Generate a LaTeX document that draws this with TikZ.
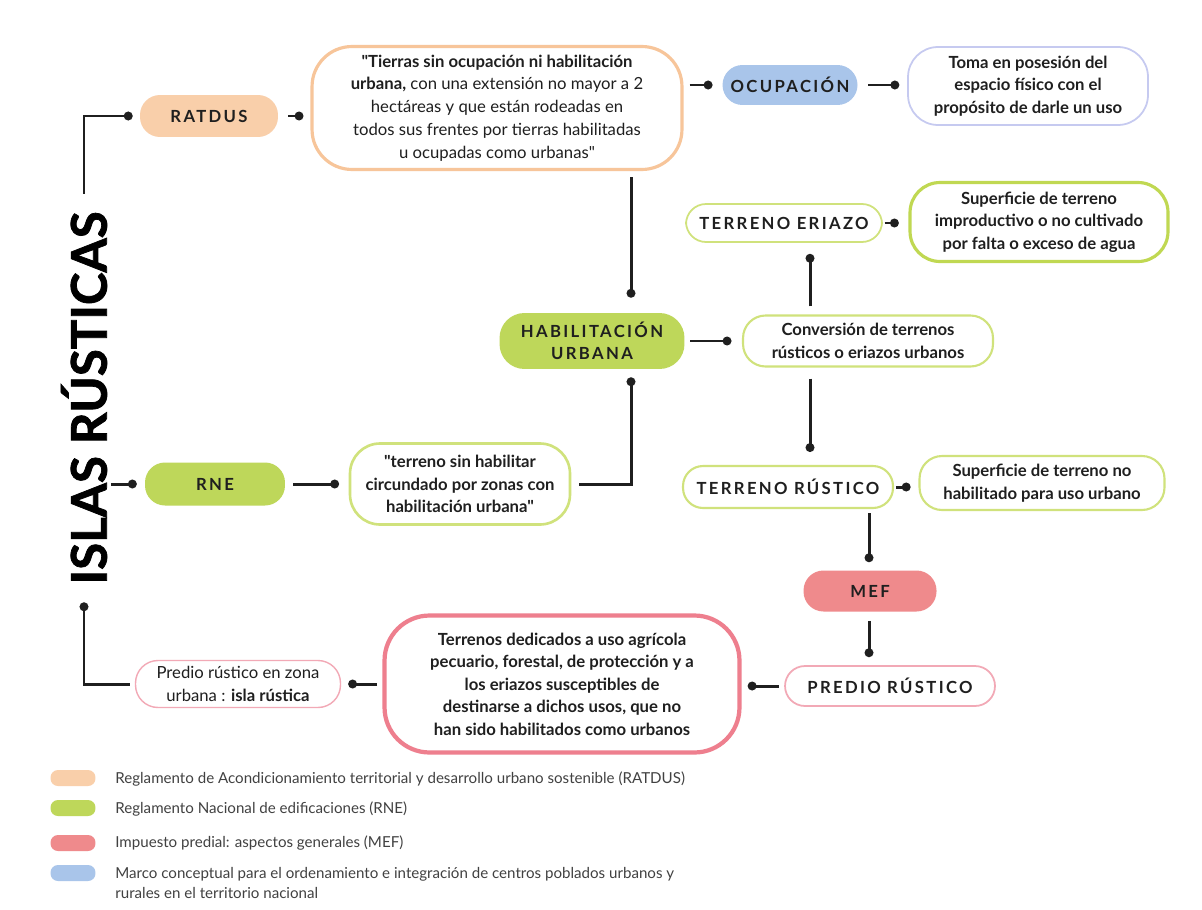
\documentclass[tikz,border=0pt]{standalone}
\usepackage{fontspec}
\setmainfont{Lato}[Ligatures=TeXOff]
\usetikzlibrary{arrows.meta,calc}
\definecolor{ink}{HTML}{1F1F1F}
\definecolor{ratdusfill}{HTML}{F9CFAA}
\definecolor{ratdusline}{HTML}{F7C59A}
\definecolor{ocupfill}{HTML}{A9C5EA}
\definecolor{ocupline}{HTML}{C6CAF0}
\definecolor{rnefill}{HTML}{BED75A}
\definecolor{rneline}{HTML}{D0E27C}
\definecolor{rnedark}{HTML}{C0D852}
\definecolor{meffill}{HTML}{EF8A8C}
\definecolor{mefline}{HTML}{EE7F8E}
\definecolor{mefpale}{HTML}{F2A9B6}
\begin{document}
\begin{tikzpicture}[x=0.02cm, y=-0.02cm,
				link/.style={-{Circle[length=5pt]}, line width=1.7pt, ink},
				tag/.style={rounded corners=0.4cm, inner sep=0pt, text=ink,
					font={\fontsize{9.5}{12.5}\selectfont\bfseries\addfontfeature{LetterSpace=14}}},
				pill/.style={tag, draw=rneline, line width=1pt, fill=white},
				note/.style={rounded corners=0.6cm, draw=rneline, line width=1.2pt, fill=white,
					inner sep=0pt, align=center, text=ink,
					font={\fontsize{9.5}{12.8}\selectfont\bfseries}},
				legend/.style={anchor=west, align=left, inner sep=0pt, text=ink!85,
					font={\fontsize{8.6}{11.5}\selectfont}},
				swatch/.style={rounded corners=0.15cm, minimum width=0.9cm, minimum height=0.32cm, inner sep=0pt}]
				\useasboundingbox[fill=white] (0,0) rectangle (1202,909);
				\node[rotate=90, inner sep=0pt, text=black,
					font={\fontsize{28}{28}\selectfont\bfseries\addfontfeature{FakeBold=1.5}}] (title) at (84,398) {ISLAS RÚSTICAS};
				\node[tag, fill=ratdusfill, minimum width=2.76cm, minimum height=0.84cm] (ratdus) at (209,116) {RATDUS};
				\node[note, draw=ratdusline, line width=1.8pt, rounded corners=0.8cm, minimum width=7.4cm, minimum height=2.46cm,
					font={\fontsize{9.5}{13}\selectfont}] (quote) at (497,108)
					{\textbf{"Tierras sin ocupación ni habilitación}\\\textbf{urbana,} con una extensión no mayor a 2\\hectáreas y que están rodeadas en\\todos sus frentes por tierras habilitadas\\u ocupadas como urbanas"};
				\node[tag, fill=ocupfill, minimum width=2.7cm, minimum height=0.8cm] (ocup) at (790,85) {OCUPACIÓN};
				\node[note, draw=ocupline, line width=1pt, minimum width=4.8cm, minimum height=1.56cm] (toma) at (1028,86)
					{Toma en posesión del\\espacio físico con el\\propósito de darle un uso};
				\node[pill, minimum width=3.92cm, minimum height=0.76cm] (eriazo) at (784,223) {TERRENO ERIAZO};
				\node[note, draw=rnedark, line width=1.8pt, minimum width=5.16cm, minimum height=1.58cm] (impro) at (1039,222)
					{Superficie de terreno\\improductivo o no cultivado\\por falta o exceso de agua};
				\node[tag, fill=rnefill, rounded corners=0.5cm, align=center, minimum width=3.7cm, minimum height=1.12cm] (hab) at (592,341)
					{HABILITACIÓN\\URBANA};
				\node[note, rounded corners=0.45cm, minimum width=5cm, minimum height=1.02cm] (conv) at (868,341)
					{Conversión de terrenos\\rústicos o eriazos urbanos};
				\node[pill, line width=1.2pt, minimum width=4.2cm, minimum height=0.84cm] (rustico) at (788,487) {TERRENO RÚSTICO};
				\node[note, rounded corners=0.45cm, minimum width=4.9cm, minimum height=1.08cm] (nohab) at (1042,483)
					{Superficie de terreno no\\habilitado para uso urbano};
				\node[tag, fill=rnefill, minimum width=2.8cm, minimum height=0.86cm] (rne) at (215,484) {RNE};
				\node[note, line width=1.5pt, minimum width=4.4cm, minimum height=1.62cm] (tsin) at (460,484)
					{"terreno sin habilitar\\circundado por zonas con\\habilitación urbana"};
				\node[tag, fill=meffill, minimum width=2.66cm, minimum height=0.82cm] (mef) at (870,591) {MEF};
				\node[pill, draw=mefpale, minimum width=4.2cm, minimum height=0.8cm] (predio) at (890,686) {PREDIO RÚSTICO};
				\node[note, draw=mefline, line width=2.4pt, rounded corners=0.9cm, minimum width=7.1cm, minimum height=2.74cm] (agri) at (562,684)
					{Terrenos dedicados a uso agrícola\\pecuario, forestal, de protección y a\\los eriazos susceptibles de\\destinarse a dichos usos, que no\\han sido habilitados como urbanos};
				\node[note, draw=mefpale, line width=0.8pt, rounded corners=0.45cm, minimum width=4.1cm, minimum height=0.94cm,
					font={\fontsize{9.5}{12.8}\selectfont}] (zona) at (238,684)
					{Predio rústico en zona\\urbana : \textbf{isla rústica}};
				\draw[link, shorten <=10pt, shorten >=4pt] (title.east) |- (ratdus.west);
				\draw[link, shorten <=2pt, shorten >=4.5pt] (title.south |- rne) -- (rne.west);
				\draw[link, shorten <=3pt, shorten >=10pt] (zona.west) -| (title.west);
				\draw[link, shorten <=5.5pt, shorten >=4pt] (ratdus.east) -- (ratdus.east -| quote.west);
				\draw[link, shorten <=3.5pt, shorten >=5.5pt] (quote.east |- ocup) -- (ocup.west);
				\draw[link, shorten <=6pt, shorten >=4.5pt] (ocup.east) -- (toma.west |- ocup);
				\draw[link] ($(quote.south)+(134,6)$) -- ($(hab.north)+(39,-15)$);
				\draw[link, shorten <=3pt, shorten >=6pt] (hab.east) -- (conv.west);
				\draw[link] ($(conv.north)+(-58,-8)$) -- ($(eriazo.south)+(26,11)$);
				\draw[link, shorten <=1pt, shorten >=5.5pt] (eriazo.east) -- (impro.west |- eriazo);
				\draw[link] ($(conv.south)+(-58,11)$) -- ($(rustico.north)+(22,-13)$);
				\draw[link, shorten <=1pt, shorten >=4.5pt] (rustico.east) -- (nohab.west |- rustico);
				\draw[link] ($(rustico.south)+(81,4)$) -- ($(mef.north)+(-1,-8)$);
				\draw[link] ($(mef.south)+(-1,9)$) -- ($(predio.north)+(-21,-8)$);
				\draw[link, shorten <=3pt, shorten >=3.5pt] (predio.west) -- (agri.east |- predio);
				\draw[link, shorten <=3pt, shorten >=4pt] (agri.west |- zona) -- (zona.east);
				\draw[link, shorten <=4.5pt, shorten >=5.5pt] (rne.east) -- (tsin.west);
				\draw[link, shorten <=4.5pt] (tsin.east) -| ($(hab.south)+(39,8)$);
				\node[swatch, fill=ratdusfill] (sw1) at (73,778) {};
				\node[swatch, fill=rnefill] (sw2) at (73,808) {};
				\node[swatch, fill=meffill] (sw3) at (73,843) {};
				\node[swatch, fill=ocupfill] (sw4) at (73,873) {};
				\node[legend] (leg1) at (115,779) {Reglamento de Acondicionamiento territorial y desarrollo urbano sostenible (RATDUS)};
				\node[legend] (leg2) at (115,809) {Reglamento Nacional de edificaciones (RNE)};
				\node[legend] (leg3) at (115,843) {Impuesto predial: aspectos generales (MEF)};
				\node[legend] (leg4) at (115,883) {Marco conceptual para el ordenamiento e integración de centros poblados urbanos y\\rurales en el territorio nacional};
			\end{tikzpicture}
\end{document}
